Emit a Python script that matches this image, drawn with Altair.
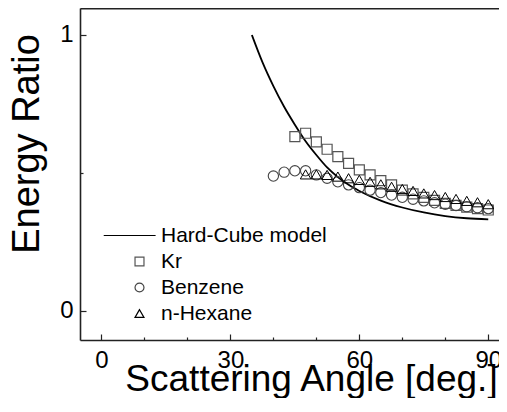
import altair as alt
import pandas as pd

# ---- data ----
hc_angle = [35, 37.5, 40, 42.5, 45, 47.5, 50, 52.5, 55, 57.5, 60, 65, 70, 75, 80, 85, 90]
hc_ratio = [1.0, 0.90, 0.815, 0.74, 0.675, 0.615, 0.565, 0.52, 0.485, 0.457, 0.435,
            0.400, 0.375, 0.357, 0.344, 0.336, 0.332]

kr_angle = [45, 47.5, 50, 52.5, 55, 57.5, 60, 62.5, 65, 67.5, 70, 72.5, 75, 77.5, 80,
            82.5, 85, 87.5, 90]
kr_ratio = [0.632, 0.644, 0.613, 0.586, 0.559, 0.535, 0.511, 0.493, 0.472, 0.457, 0.438,
            0.424, 0.412, 0.401, 0.390, 0.383, 0.376, 0.371, 0.366]

bz_angle = [40, 42.5, 45, 47.5, 50, 52.5, 55, 57.5, 60, 62.5, 65, 67.5, 70, 72.5, 75,
            77.5, 80, 82.5, 85, 87.5, 90]
bz_ratio = [0.489, 0.503, 0.508, 0.508, 0.493, 0.481, 0.468, 0.457, 0.447, 0.438, 0.429,
            0.420, 0.412, 0.405, 0.399, 0.392, 0.387, 0.382, 0.378, 0.374, 0.371]

hx_angle = [47.5, 50, 52.5, 55, 57.5, 60, 62.5, 65, 67.5, 70, 72.5, 75, 77.5, 80, 82.5,
            85, 87.5, 90]
hx_ratio = [0.495, 0.495, 0.493, 0.487, 0.481, 0.475, 0.468, 0.459, 0.450, 0.442, 0.435,
            0.426, 0.420, 0.413, 0.406, 0.399, 0.394, 0.387]

series_names = ["Hard-Cube model", "Kr", "Benzene", "n-Hexane"]
series_colors = ["#000000", "#555555", "#444444", "#000000"]
series_shapes = ["M-8,0H3.6", "square", "circle", "triangle-up"]
point_names = ["Kr", "Benzene", "n-Hexane"]
point_sizes = [100, 112, 140]
point_widths = [1.2, 1.0, 1.5]

x_major = [0, 30, 60, 90]
x_minor = [10, 20, 40, 50, 70, 80]
y_major = [0, 1]
y_minor = [0.5]

line_df = pd.DataFrame({"angle": hc_angle, "ratio": hc_ratio, "series": series_names[0]})
pts_df = pd.concat([
    pd.DataFrame({"angle": kr_angle, "ratio": kr_ratio, "series": "Kr"}),
    pd.DataFrame({"angle": bz_angle, "ratio": bz_ratio, "series": "Benzene"}),
    pd.DataFrame({"angle": hx_angle, "ratio": hx_ratio, "series": "n-Hexane"}),
])

xs = alt.Scale(domain=[-5, 92.5], nice=False, zero=False)
ys = alt.Scale(domain=[-0.1051, 1.0978], nice=False, zero=False)
FONT = "Liberation Sans"
AX = "#222222"

legend = alt.Legend(title=None, orient="none", legendX=49, legendY=217,
                    labelFont=FONT, labelFontSize=21, labelColor="black", labelLimit=400,
                    symbolSize=80, symbolStrokeWidth=1.2, labelOffset=11,
                    rowPadding=4, padding=0)
stroke_enc = alt.Stroke("series:N", scale=alt.Scale(domain=series_names, range=series_colors),
                        legend=legend)
shape_enc = alt.Shape("series:N", scale=alt.Scale(domain=series_names, range=series_shapes),
                      legend=legend)

main_x = alt.Axis(orient="bottom", values=x_major, ticks=False, domain=True,
                  domainColor=AX, domainWidth=1.6, labelFont=FONT, labelFontSize=24,
                  labelColor="black", labelPadding=8, labelOverlap=False, grid=False,
                  format="d",
                  title="Scattering Angle [deg.]", titleFont=FONT, titleFontSize=37,
                  titleFontWeight="normal", titleColor="black", titleX=231, titleY=50,
                  titleBaseline="alphabetic", titleAlign="center")
main_y = alt.Axis(orient="left", values=y_major, ticks=False, domain=True,
                  domainColor=AX, domainWidth=1.6, labelFont=FONT, labelFontSize=24,
                  labelColor="black", labelPadding=7, labelOverlap=False, grid=False,
                  format="d",
                  title="Energy Ratio", titleFont=FONT, titleFontSize=38,
                  titleFontWeight="normal", titleColor="black", titleAngle=270,
                  titleX=-41.5, titleY=135.5, titleBaseline="alphabetic", titleAlign="center")

line = alt.Chart(line_df).mark_line(strokeWidth=1.8, interpolate="monotone").encode(
    x=alt.X("angle:Q", scale=xs, axis=main_x),
    y=alt.Y("ratio:Q", scale=ys, axis=main_y),
    stroke=stroke_enc,
)

pts = alt.Chart(pts_df).mark_point(filled=False, opacity=1).encode(
    x=alt.X("angle:Q", scale=xs,
            axis=alt.Axis(orient="bottom", values=x_major, offset=-6, tickSize=6,
                          tickWidth=1.2, tickColor=AX, domain=False, labels=False,
                          grid=False, title=None)),
    y=alt.Y("ratio:Q", scale=ys,
            axis=alt.Axis(orient="left", values=y_major, offset=-6, tickSize=6,
                          tickWidth=1.2, tickColor=AX, domain=False, labels=False,
                          grid=False, title=None)),
    stroke=stroke_enc,
    shape=shape_enc,
    size=alt.Size("series:N", scale=alt.Scale(domain=point_names, range=point_sizes),
                  legend=None),
    strokeWidth=alt.StrokeWidth("series:N",
                                scale=alt.Scale(domain=point_names, range=point_widths),
                                legend=None),
)

minor = alt.Chart(line_df).mark_line(opacity=0).encode(
    x=alt.X("angle:Q", scale=xs,
            axis=alt.Axis(orient="bottom", values=x_minor, offset=-3, tickSize=3,
                          tickWidth=1.2, tickColor=AX, domain=False, labels=False,
                          grid=False, title=None)),
    y=alt.Y("ratio:Q", scale=ys,
            axis=alt.Axis(orient="left", values=y_minor, offset=-3, tickSize=3,
                          tickWidth=1.2, tickColor=AX, domain=False, labels=False,
                          grid=False, title=None)),
)

top = alt.Chart(line_df).mark_line(opacity=0).encode(
    x=alt.X("angle:Q", scale=xs,
            axis=alt.Axis(orient="top", ticks=False, labels=False, domain=True,
                          domainColor=AX, domainWidth=1.8, grid=False, title=None)),
    y=alt.Y("ratio:Q", scale=ys,
            axis=alt.Axis(orient="left", ticks=False, labels=False, domain=False,
                          grid=False, title=None)),
)

chart = alt.layer(line, pts, minor, top).resolve_axis(
    x="independent", y="independent"
).properties(
    width=419, height=332,
    autosize=alt.AutoSizeParams(type="none"),
    padding={"left": 72, "top": 0, "right": 0, "bottom": 58},
).configure_view(stroke="transparent")

chart.save("out.html", embed_options={"renderer": "svg", "actions": False})
